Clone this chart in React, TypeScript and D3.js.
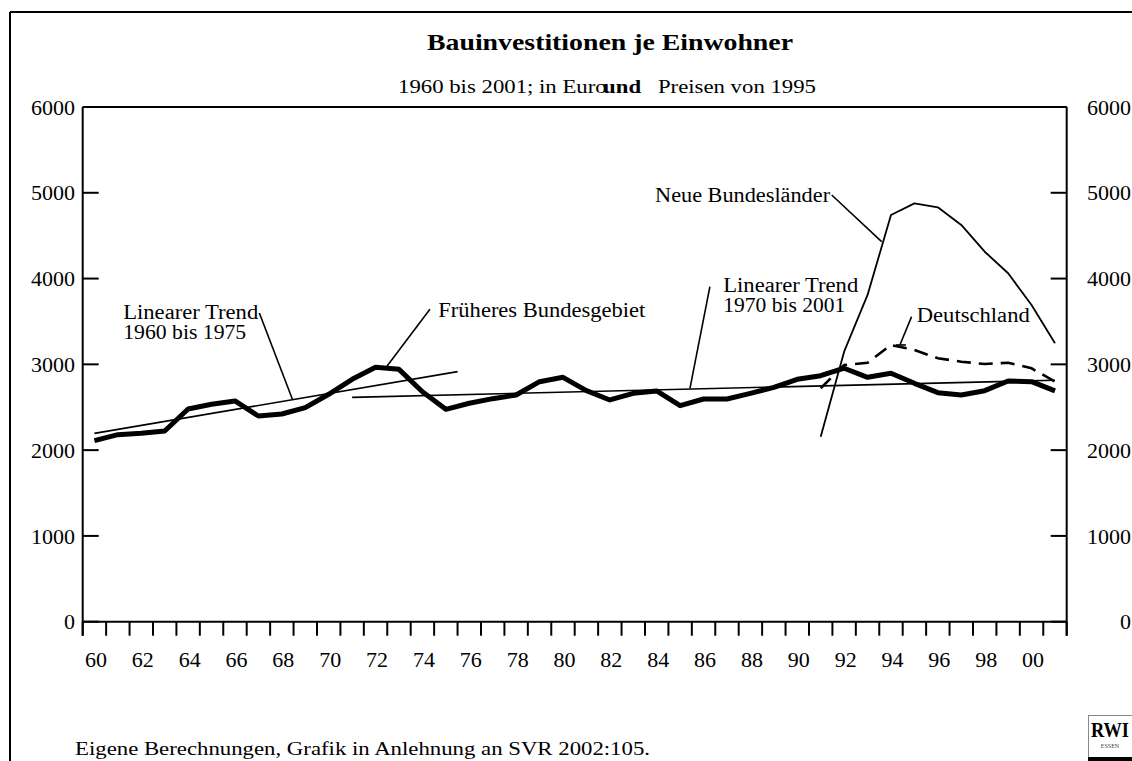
import React from 'react';
import * as d3 from 'd3';

const years = [1960,1961,1962,1963,1964,1965,1966,1967,1968,1969,1970,1971,1972,1973,1974,1975,1976,1977,1978,1979,1980,1981,1982,1983,1984,1985,1986,1987,1988,1989,1990,1991,1992,1993,1994,1995,1996,1997,1998,1999,2000,2001];
const westValues = [2110,2180,2196,2223,2480,2534,2573,2398,2421,2495,2651,2826,2966,2942,2681,2476,2546,2600,2643,2798,2849,2693,2585,2662,2690,2518,2596,2596,2662,2732,2826,2868,2955,2849,2896,2779,2670,2643,2693,2806,2798,2690];
const eastYears = [1991,1992,1993,1994,1995,1996,1997,1998,1999,2000,2001];
const eastValues = [2157,3148,3809,4741,4877,4831,4625,4313,4062,3692,3245];
const germanyValues = [2721,2992,3019,3226,3167,3071,3031,3004,3019,2954,2798];
const trend1Years = [1960, 1975.5];
const trend1Values = [2195, 2915];
const trend2Years = [1971, 2001];
const trend2Values = [2615, 2815];
const yTicks = [0,1000,2000,3000,4000,5000,6000];
const xLabelYears = [1960,1962,1964,1966,1968,1970,1972,1974,1976,1978,1980,1982,1984,1986,1988,1990,1992,1994,1996,1998,2000];
const xLabels = ['60','62','64','66','68','70','72','74','76','78','80','82','84','86','88','90','92','94','96','98','00'];

const annLabels = [['Linearer Trend','1960 bis 1975'],['Früheres Bundesgebiet'],['Linearer Trend','1970 bis 2001'],['Neue Bundesländer'],['Deutschland']];
const annWidths = [[135,123],[207],[135,122],[175],[113]];
const annAt = [[1961.23,3529],[1974.68,3552],[1986.84,3843],[1991.4,4893],[1995.1,3494]];
const annAnchor = ['start','start','start','end','start'];
const annLeaders = [
  [[1967.04,3598],[1968.45,2593]],
  [[1974.32,3642],[1972.47,2973]],
  [[1986.27,3905],[1985.42,2721]],
  [[1991.47,4974],[1993.6,4430]],
  [[1994.88,3556],[1994.38,3226]],
];

const W = 1132, H = 761;
const L = 82.7, R = 1066.7, T = 107, B = 621.7;
const FONT = '"Liberation Serif", "Times New Roman", serif';

export default function App() {
  const x = d3.scaleLinear().domain([1959.5, 2001.5]).range([L, R]);
  const y = d3.scaleLinear().domain([0, 6000]).range([B, T]);
  const line = d3.line<[number, number]>().x(d => x(d[0])).y(d => y(d[1]));
  const west = line(years.map((yr, i) => [yr, westValues[i]] as [number, number]))!;
  const east = line(eastYears.map((yr, i) => [yr, eastValues[i]] as [number, number]))!;
  const ger = line(eastYears.map((yr, i) => [yr, germanyValues[i]] as [number, number]))!;
  const t1 = line(trend1Years.map((yr, i) => [yr, trend1Values[i]] as [number, number]))!;
  const t2 = line(trend2Years.map((yr, i) => [yr, trend2Values[i]] as [number, number]))!;
  const boundaries = d3.range(0, years.length + 1).map(i => years[0] - 0.5 + i);

  return (
    <svg width={W} height={H} style={{ position: 'absolute', left: 0, top: 0, background: '#fff' }} fontFamily={FONT}>
      <rect x={0} y={0} width={W} height={H} fill="#fff" />
      <line x1={10} y1={12} x2={W} y2={12} stroke="#000" strokeWidth={2} />
      <line x1={10} y1={12} x2={10} y2={H} stroke="#000" strokeWidth={2} />
      <text x={610} y={50} textAnchor="middle" fontWeight="bold" fontSize={24} textLength={366} lengthAdjust="spacingAndGlyphs">Bauinvestitionen je Einwohner</text>
      <text x={398} y={93} fontSize={19} textLength={418} lengthAdjust="spacingAndGlyphs">
        1960 bis 2001; in Euro<tspan dx={-3} fontWeight="bold">und</tspan><tspan dx={14}>Preisen von 1995</tspan>
      </text>
      <line x1={L} y1={T} x2={R} y2={T} stroke="#000" strokeWidth={2} />
      <line x1={L} y1={T} x2={L} y2={B + 14} stroke="#000" strokeWidth={2} />
      <line x1={R} y1={T} x2={R} y2={B + 14} stroke="#000" strokeWidth={2} />
      <line x1={L} y1={B} x2={R} y2={B} stroke="#000" strokeWidth={2} />
      {yTicks.map(v => (
        <g key={v}>
          <line x1={L} x2={L + 16} y1={y(v)} y2={y(v)} stroke="#000" strokeWidth={2} />
          <line x1={R - 16} x2={R} y1={y(v)} y2={y(v)} stroke="#000" strokeWidth={2} />
          <text x={75} y={y(v)} dy="0.35em" textAnchor="end" fontSize={22}>{v}</text>
          <text x={1131} y={y(v)} dy="0.35em" textAnchor="end" fontSize={22}>{v}</text>
        </g>
      ))}
      {boundaries.map(b => (
        <line key={b} x1={x(b)} x2={x(b)} y1={B} y2={B + 14} stroke="#000" strokeWidth={2} />
      ))}
      {xLabelYears.map((yr, i) => (
        <text key={yr} x={x(yr) + 1.5} y={667} textAnchor="middle" fontSize={22}>{xLabels[i]}</text>
      ))}
      <path d={t1} fill="none" stroke="#000" strokeWidth={1.6} />
      <path d={t2} fill="none" stroke="#000" strokeWidth={1.6} />
      <path d={east} fill="none" stroke="#000" strokeWidth={1.8} strokeLinejoin="round" />
      <path d={ger} fill="none" stroke="#000" strokeWidth={2.6} strokeDasharray="14 8" />
      <path d={west} fill="none" stroke="#000" strokeWidth={5} strokeLinejoin="round" />
      {annLabels.map((lines, i) => (
        <g key={i}>
          <path d={line(annLeaders[i] as [number, number][])!} fill="none" stroke="#000" strokeWidth={1.6} />
          {lines.map((t, j) => (
            <text key={j} x={x(annAt[i][0])} y={y(annAt[i][1]) + j * 20} textAnchor={annAnchor[i] as any} fontSize={20} textLength={annWidths[i][j]} lengthAdjust="spacingAndGlyphs">{t}</text>
          ))}
        </g>
      ))}
      <line x1={x(annLeaders[4][1][0]) - 4} x2={x(annLeaders[4][1][0]) + 6} y1={y(annLeaders[4][1][1])} y2={y(annLeaders[4][1][1])} stroke="#000" strokeWidth={1.6} />
      <text x={75} y={755} fontSize={19} textLength={575} lengthAdjust="spacingAndGlyphs">Eigene Berechnungen, Grafik in Anlehnung an SVR 2002:105.</text>
      <rect x={1088.5} y={715.5} width={44} height={45} fill="#fff" stroke="#888" strokeWidth={1} />
      <text x={1110} y={737} textAnchor="middle" fontWeight="bold" fontSize={20} textLength={38} lengthAdjust="spacingAndGlyphs">RWI</text>
      <text x={1110} y={748} textAnchor="middle" fontSize={6} fill="#444">ESSEN</text>
      <rect x={1088} y={757} width={44} height={4} fill="#000" />
    </svg>
  );
}
